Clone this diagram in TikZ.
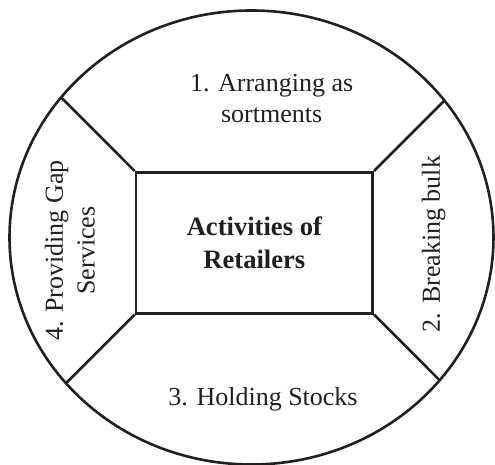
\documentclass[tikz,border=0pt]{standalone}
\usepackage{fontspec}
\setmainfont{Liberation Serif}
\definecolor{inkcolor}{HTML}{231F20}

\begin{document}
\begin{tikzpicture}[x=0.5pt, y=0.5pt,
  ring/.style={line width=1.3pt, draw=inkcolor},
  sectortext/.style={font=\fontsize{13}{15.9}\selectfont, align=center, text=inkcolor}]
  \useasboundingbox (-251.5,-227.5) rectangle (243.5,237.5);
  % outer rim
  \draw[ring] (0,0) ellipse [x radius=242, y radius=227];
  % retailer box in the middle
  \node[ring, minimum width=118.4pt, minimum height=70.5pt, inner sep=0pt,
        font=\fontsize{13.3}{16.6}\selectfont\bfseries, align=center, text=inkcolor]
        (hub) at (2.85,-5.3) {Activities of\\Retailers};
  % spokes from the box corners to the rim
  \coordinate (nwRim) at (-190.4,140.1);
  \coordinate (neRim) at (193,137);
  \coordinate (swRim) at (-185.5,-145.8);
  \coordinate (seRim) at (188.2,-142.8);
  \draw[ring] (hub.north west) -- (nwRim);
  \draw[ring] (hub.north east) -- (neRim);
  \draw[ring] (hub.south west) -- (swRim);
  \draw[ring] (hub.south east) -- (seRim);
  % the four activities
  \node[sectortext] (arrange) at (20.1,138.9) {1. Arranging as\\sortments};
  \node[sectortext, rotate=90] (bulk) at (182.1,-6.5) {2. Breaking bulk};
  \node[sectortext] (stocks) at (11.5,-161.4) {3. Holding Stocks};
  \node[sectortext, rotate=90] (gap) at (-181.6,-13) {4. Providing Gap\\Services};
\end{tikzpicture}
\end{document}
